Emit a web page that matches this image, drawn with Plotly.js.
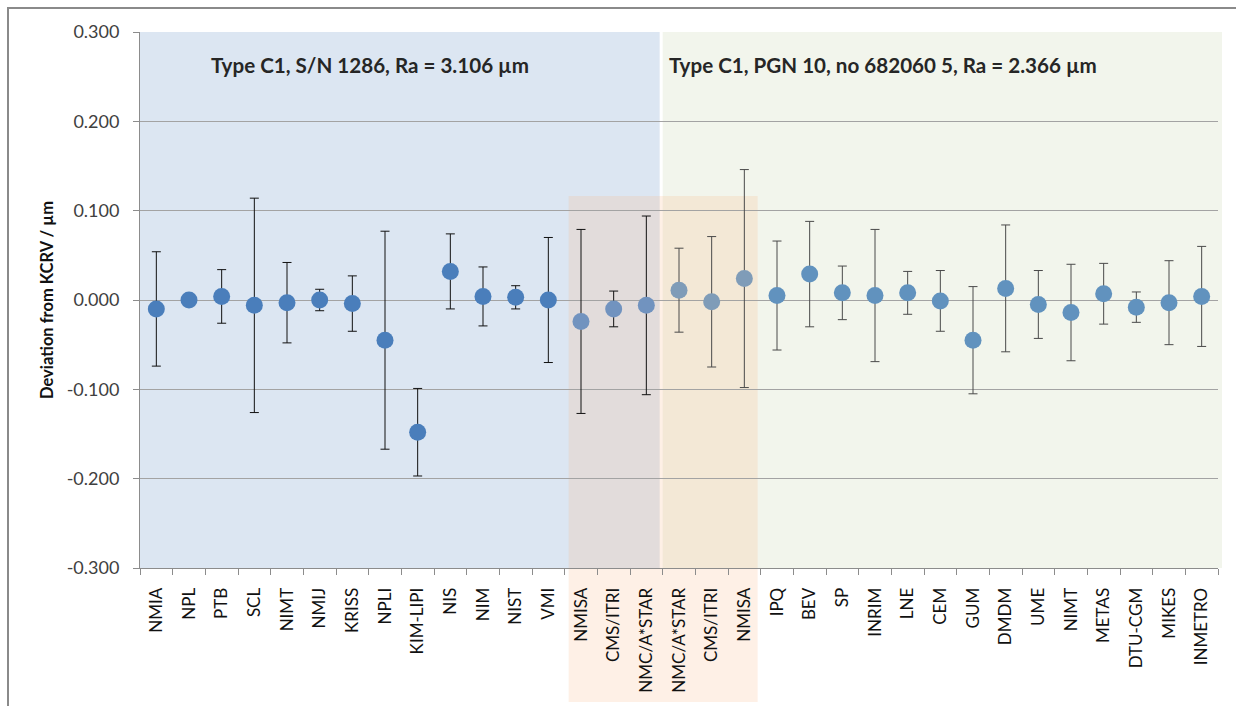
<!DOCTYPE html>
<html>
<head>
<meta charset="utf-8">
<script src="https://cdn.plot.ly/plotly-3.0.1.min.js"></script>
<style>
  html, body { margin:0; padding:0; background:#fff; overflow:hidden; }
  #chart { width:1236px; height:706px; }
  #frame { position:absolute; left:7px; top:7px; width:3000px; height:3000px;
           border-left:2px solid #8a8a8a; border-top:2px solid #8a8a8a; pointer-events:none; }
</style>
</head>
<body>
<div id="chart"></div>
<div id="frame"></div>
<script>
// ---- data ----
var labs = ["NMIA","NPL","PTB","SCL","NIMT","NMIJ","KRISS","NPLI","KIM-LIPI","NIS","NIM","NIST","VMI",
            "NMISA","CMS/ITRI","NMC/A*STAR","NMC/A*STAR","CMS/ITRI","NMISA",
            "IPQ","BEV","SP","INRIM","LNE","CEM","GUM","DMDM","UME","NIMT","METAS","DTU-CGM","MIKES","INMETRO"];
var dev = [-0.010, 0.000, 0.004, -0.006, -0.003, 0.000, -0.004, -0.045, -0.148, 0.032, 0.004, 0.003, 0.000,
           -0.024, -0.010, -0.006, 0.011, -0.002, 0.024,
           0.005, 0.029, 0.008, 0.005, 0.008, -0.001, -0.045, 0.013, -0.005, -0.014, 0.007, -0.008, -0.003, 0.004];
var unc = [0.064, 0.003, 0.030, 0.120, 0.045, 0.012, 0.031, 0.122, 0.049, 0.042, 0.033, 0.013, 0.070,
           0.103, 0.020, 0.100, 0.047, 0.073, 0.122,
           0.061, 0.059, 0.030, 0.074, 0.024, 0.034, 0.060, 0.071, 0.038, 0.054, 0.034, 0.017, 0.047, 0.056];
var title1 = "Type C1, S/N 1286, Ra = 3.106 µm";
var title2 = "Type C1, PGN 10, no 682060 5, Ra = 2.366 µm";
var yTicks = [-0.3, -0.2, -0.1, 0, 0.1, 0.2, 0.3];

// ---- build ----
var N = labs.length;
var idx = labs.map(function(_, i){ return i; });
function pointColor(i){
  if (i < 13) return '#4a7ebb';
  if (i < 16) return '#7193bf';
  if (i < 19) return '#7f9cb8';
  return '#6192be';
}
function sub(arr, a, b){ return arr.slice(a, b); }
function mk(a, b, ecol){
  return {
    type:'scatter', mode:'markers',
    x: sub(idx, a, b), y: sub(dev, a, b),
    error_y: {type:'data', array: sub(unc, a, b), visible:true, color: ecol, thickness:1, width:4.5},
    marker: {size:17, color: sub(idx, a, b).map(pointColor), line:{width:0}},
    hoverinfo:'x+y', showlegend:false
  };
}
var traces = [mk(0, 16, '#111111'), mk(16, N, '#4a4a4a')];

var L = 140, R = 18, T = 32, B = 138, W = 1236, H = 706;
var pw = W - L - R, ph = H - T - B;
function px2yp(py){ return (H - B - py) / ph; }
function ix2xp(v){ return (v + 0.5) / N; }

var shapes = [
  {type:'rect', xref:'paper', yref:'paper', x0:0, x1:ix2xp(15.5) - 3/pw, y0:0, y1:1,
   fillcolor:'#dce6f2', line:{width:0}, layer:'below'},
  {type:'rect', xref:'paper', yref:'paper', x0:ix2xp(15.5), x1:1 + 4/pw, y0:0, y1:1,
   fillcolor:'#f2f5ec', line:{width:0}, layer:'below'},
  {type:'rect', xref:'paper', yref:'paper', x0:ix2xp(12.5) + 4/pw, x1:ix2xp(18.5) - 3/pw,
   y0:px2yp(702), y1:px2yp(196),
   fillcolor:'rgba(250,178,128,0.2)', line:{width:0}, layer:'below'}
];

var layout = {
  width:W, height:H,
  margin:{l:L, r:R, t:T, b:B, pad:0},
  paper_bgcolor:'rgba(0,0,0,0)', plot_bgcolor:'rgba(0,0,0,0)',
  font:{family:'Lato, "Open Sans", sans-serif', color:'#1a1a1a'},
  showlegend:false,
  xaxis:{
    range:[-0.5, N - 0.5], tickmode:'array', tickvals: idx, ticktext: labs,
    tickangle:-90, ticks:'', showgrid:false, zeroline:false,
    showline:true, linecolor:'#8c8c8c', linewidth:1,
    tickfont:{size:17, color:'#111'}, ticklabelstandoff:12,
    minor:{tick0:0.5, dtick:1, ticks:'outside', ticklen:6, tickcolor:'#8c8c8c', showgrid:false}
  },
  yaxis:{
    range:[-0.3, 0.3], tickmode:'array', tickvals:yTicks,
    ticktext: yTicks.map(function(v){ return v.toFixed(3); }),
    ticks:'outside', ticklen:6, tickcolor:'#8c8c8c',
    showline:true, linecolor:'#8c8c8c', linewidth:1,
    showgrid:true, gridcolor:'#a3a3a3', gridwidth:1, zeroline:false,
    tickfont:{size:18, color:'#404040'}, ticklabelstandoff:10,
    title:{text:'<b>Deviation from KCRV / µm</b>', font:{size:16.5, color:'#111'}, standoff:8}
  },
  shapes: shapes,
  annotations:[
    {text:'<b>'+title1+'</b>', xref:'x', yref:'y', x:6.54, y:0.263, showarrow:false,
     font:{size:20.6, color:'#262626'}, xanchor:'center', yanchor:'middle'},
    {text:'<b>'+title2+'</b>', xref:'x', yref:'y', x:22.26, y:0.263, showarrow:false,
     font:{size:20.6, color:'#262626'}, xanchor:'center', yanchor:'middle'}
  ]
};

Plotly.newPlot('chart', traces, layout, {displayModeBar:false, staticPlot:true});
</script>
</body>
</html>
